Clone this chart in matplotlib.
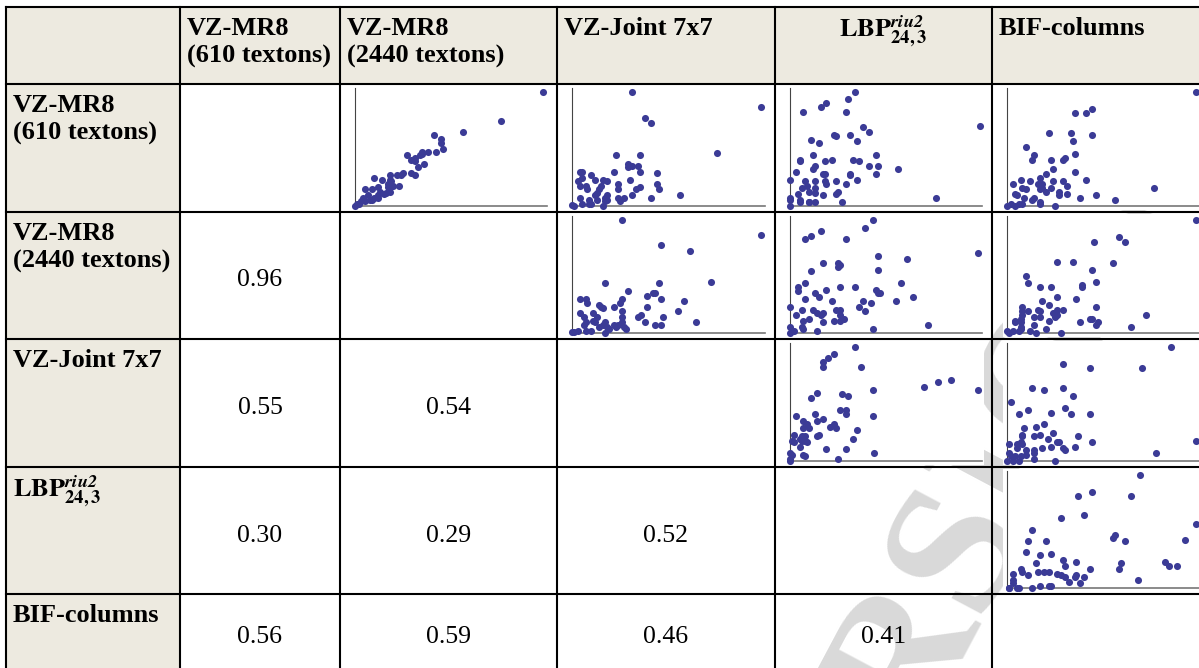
import matplotlib
matplotlib.use('Agg')
import matplotlib.pyplot as plt
from matplotlib.patches import Rectangle

plt.rcParams['mathtext.fontset'] = 'stix'

# table labels
lbp_label = r'$\mathbf{LBP}^{\mathbfit{riu2}}_{\mathbf{24,3}}$'
col_labels = [['VZ-MR8', '(610 textons)'], ['VZ-MR8', '(2440 textons)'],
              ['VZ-Joint 7x7'], [lbp_label], ['BIF-columns']]
row_labels = col_labels

# correlations (lower triangle, one list per row)
corr_mr2440 = [0.96]
corr_joint = [0.55, 0.54]
corr_lbp = [0.30, 0.29, 0.52]
corr_bif = [0.56, 0.59, 0.46, 0.41]

# scatter data, normalised error values
mr610_mr2440_x = [0.00, 0.01, 0.98, 0.76, 0.56, 0.41, 0.45, 0.45, 0.46, 0.42, 0.38, 0.35, 0.35, 0.34, 0.27,
                  0.31, 0.29, 0.31, 0.36, 0.33, 0.29, 0.31, 0.25, 0.24, 0.22, 0.18, 0.10, 0.14, 0.18, 0.19,
                  0.17, 0.19, 0.23, 0.20, 0.17, 0.05, 0.09, 0.12, 0.13, 0.18, 0.16, 0.15, 0.12, 0.07, 0.04,
                  0.10, 0.12, 0.08, 0.03, 0.05, 0.09, 0.02]
mr610_mr2440_y = [0.00, 0.02, 0.97, 0.72, 0.63, 0.60, 0.57, 0.53, 0.48, 0.46, 0.46, 0.46, 0.44, 0.43, 0.43,
                  0.41, 0.39, 0.38, 0.36, 0.33, 0.28, 0.26, 0.28, 0.26, 0.26, 0.26, 0.24, 0.22, 0.22, 0.21,
                  0.19, 0.17, 0.17, 0.17, 0.16, 0.14, 0.14, 0.16, 0.12, 0.12, 0.11, 0.10, 0.09, 0.09, 0.07,
                  0.07, 0.07, 0.05, 0.04, 0.04, 0.05, 0.02]

mr610_joint_x = [0.00, 0.01, 0.31, 0.98, 0.38, 0.41, 0.75, 0.23, 0.35, 0.29, 0.29, 0.31, 0.34, 0.22, 0.35,
                 0.04, 0.05, 0.44, 0.10, 0.12, 0.05, 0.30, 0.16, 0.18, 0.03, 0.24, 0.44, 0.04, 0.07, 0.35,
                 0.33, 0.45, 0.24, 0.08, 0.14, 0.15, 0.13, 0.18, 0.12, 0.17, 0.31, 0.56, 0.04, 0.41, 0.24,
                 0.27, 0.09, 0.13, 0.18, 0.17, 0.25, 0.05, 0.09, 0.16, 0.10]
mr610_joint_y = [0.01, 0.00, 0.97, 0.84, 0.75, 0.70, 0.45, 0.43, 0.43, 0.36, 0.33, 0.34, 0.34, 0.29, 0.29,
                 0.29, 0.29, 0.28, 0.26, 0.22, 0.24, 0.22, 0.22, 0.21, 0.21, 0.19, 0.19, 0.17, 0.17, 0.16,
                 0.14, 0.14, 0.14, 0.14, 0.14, 0.17, 0.11, 0.09, 0.09, 0.07, 0.09, 0.09, 0.07, 0.07, 0.07,
                 0.07, 0.05, 0.05, 0.05, 0.04, 0.04, 0.02, 0.02, 0.00, 0.02]

mr610_lbp_x = [0.00, 0.00, 0.05, 0.10, 0.34, 0.30, 0.19, 0.16, 0.07, 0.29, 0.99, 0.38, 0.41, 0.23, 0.24,
               0.31, 0.11, 0.15, 0.35, 0.12, 0.45, 0.05, 0.05, 0.18, 0.22, 0.33, 0.36, 0.41, 0.46, 0.56,
               0.13, 0.12, 0.03, 0.17, 0.18, 0.31, 0.31, 0.45, 0.00, 0.35, 0.08, 0.13, 0.18, 0.24, 0.19,
               0.29, 0.09, 0.06, 0.13, 0.10, 0.13, 0.25, 0.04, 0.24, 0.17, 0.00, 0.05, 0.10, 0.13, 0.27,
               0.76]
mr610_lbp_y = [0.00, 0.05, 0.05, 0.03, 0.97, 0.91, 0.87, 0.84, 0.80, 0.80, 0.68, 0.67, 0.63, 0.60, 0.59,
               0.60, 0.56, 0.53, 0.55, 0.43, 0.43, 0.38, 0.39, 0.38, 0.39, 0.39, 0.38, 0.34, 0.34, 0.31,
               0.34, 0.31, 0.29, 0.27, 0.27, 0.27, 0.26, 0.27, 0.22, 0.22, 0.21, 0.21, 0.21, 0.21, 0.19,
               0.19, 0.17, 0.15, 0.15, 0.12, 0.11, 0.12, 0.10, 0.10, 0.09, 0.07, 0.03, 0.03, 0.03, 0.03,
               0.07]

mr610_bif_x = [0.98, 0.35, 0.41, 0.44, 0.22, 0.33, 0.44, 0.34, 0.10, 0.14, 0.13, 0.35, 0.29, 0.30, 0.23,
               0.24, 0.35, 0.20, 0.17, 0.07, 0.41, 0.03, 0.12, 0.16, 0.18, 0.24, 0.29, 0.31, 0.08, 0.18,
               0.17, 0.23, 0.27, 0.31, 0.04, 0.05, 0.09, 0.14, 0.17, 0.17, 0.08, 0.13, 0.27, 0.38, 0.46,
               0.56, 0.76, 0.00, 0.02, 0.04, 0.06, 0.25, 0.10, 0.20]
mr610_bif_y = [0.97, 0.79, 0.79, 0.82, 0.62, 0.62, 0.60, 0.55, 0.50, 0.43, 0.39, 0.44, 0.39, 0.41, 0.39,
               0.31, 0.29, 0.27, 0.24, 0.22, 0.22, 0.19, 0.21, 0.19, 0.19, 0.21, 0.21, 0.17, 0.15, 0.15,
               0.14, 0.15, 0.12, 0.10, 0.10, 0.09, 0.07, 0.07, 0.03, 0.02, 0.02, 0.05, 0.09, 0.07, 0.09,
               0.05, 0.15, 0.00, 0.02, 0.00, 0.02, 0.00, 0.14, 0.12]

mr2440_joint_x = [0.00, 0.01, 0.03, 0.26, 0.98, 0.46, 0.61, 0.72, 0.17, 0.45, 0.29, 0.39, 0.42, 0.43, 0.04,
                  0.07, 0.46, 0.26, 0.25, 0.08, 0.58, 0.14, 0.15, 0.16, 0.22, 0.39, 0.26, 0.04, 0.11, 0.55,
                  0.06, 0.13, 0.34, 0.36, 0.47, 0.26, 0.11, 0.12, 0.17, 0.38, 0.43, 0.46, 0.64, 0.06, 0.07,
                  0.14, 0.22, 0.24, 0.26, 0.27, 0.28, 0.19, 0.18, 0.16, 0.07, 0.10, 0.17, 0.23]
mr2440_joint_y = [0.01, 0.01, 0.02, 0.97, 0.84, 0.75, 0.70, 0.44, 0.43, 0.43, 0.36, 0.32, 0.34, 0.34, 0.29,
                  0.29, 0.29, 0.29, 0.26, 0.26, 0.27, 0.24, 0.22, 0.21, 0.22, 0.22, 0.19, 0.17, 0.17, 0.19,
                  0.14, 0.14, 0.14, 0.15, 0.14, 0.14, 0.10, 0.09, 0.09, 0.09, 0.07, 0.07, 0.09, 0.07, 0.09,
                  0.05, 0.07, 0.07, 0.09, 0.05, 0.03, 0.03, 0.05, 0.07, 0.02, 0.02, 0.00, 0.05]

mr2440_lbp_x = [0.43, 0.39, 0.16, 0.11, 0.08, 0.29, 0.98, 0.46, 0.61, 0.17, 0.25, 0.26, 0.25, 0.46, 0.11,
                0.58, 0.08, 0.04, 0.04, 0.19, 0.26, 0.34, 0.45, 0.46, 0.47, 0.13, 0.15, 0.08, 0.22, 0.38,
                0.42, 0.55, 0.64, 0.00, 0.06, 0.12, 0.24, 0.26, 0.36, 0.39, 0.14, 0.16, 0.17, 0.26, 0.03,
                0.10, 0.07, 0.17, 0.23, 0.26, 0.28, 0.43, 0.72, 0.00, 0.06, 0.07, 0.02, 0.14, 0.00]
mr2440_lbp_y = [0.97, 0.90, 0.87, 0.83, 0.80, 0.80, 0.68, 0.66, 0.63, 0.60, 0.60, 0.58, 0.56, 0.54, 0.53,
                0.43, 0.43, 0.39, 0.36, 0.37, 0.39, 0.39, 0.37, 0.34, 0.34, 0.34, 0.31, 0.29, 0.27, 0.27,
                0.26, 0.27, 0.31, 0.22, 0.20, 0.20, 0.20, 0.20, 0.22, 0.19, 0.17, 0.15, 0.17, 0.15, 0.15,
                0.12, 0.10, 0.09, 0.10, 0.10, 0.12, 0.03, 0.07, 0.05, 0.05, 0.03, 0.02, 0.02, 0.00]

mr2440_bif_x = [0.98, 0.58, 0.61, 0.45, 0.26, 0.34, 0.55, 0.44, 0.46, 0.39, 0.39, 0.10, 0.11, 0.17, 0.23,
                0.26, 0.18, 0.36, 0.46, 0.22, 0.29, 0.08, 0.08, 0.08, 0.11, 0.16, 0.17, 0.26, 0.24, 0.26,
                0.25, 0.14, 0.17, 0.22, 0.04, 0.04, 0.07, 0.07, 0.07, 0.14, 0.20, 0.12, 0.15, 0.28, 0.38,
                0.43, 0.44, 0.46, 0.47, 0.64, 0.72, 0.00, 0.01, 0.03, 0.06, 0.07]
mr2440_bif_y = [0.97, 0.82, 0.78, 0.78, 0.61, 0.61, 0.60, 0.54, 0.44, 0.41, 0.39, 0.49, 0.43, 0.39, 0.39,
                0.31, 0.27, 0.29, 0.22, 0.24, 0.20, 0.22, 0.19, 0.15, 0.19, 0.20, 0.19, 0.20, 0.17, 0.15,
                0.14, 0.14, 0.14, 0.10, 0.10, 0.09, 0.12, 0.09, 0.05, 0.07, 0.03, 0.02, 0.00, 0.00, 0.09,
                0.12, 0.12, 0.07, 0.09, 0.05, 0.15, 0.02, 0.00, 0.02, 0.02, 0.03]

joint_lbp_x = [0.34, 0.23, 0.20, 0.17, 0.17, 0.37, 0.70, 0.77, 0.84, 0.98, 0.43, 0.14, 0.11, 0.27, 0.30,
               0.03, 0.13, 0.07, 0.14, 0.17, 0.26, 0.29, 0.29, 0.43, 0.09, 0.07, 0.10, 0.21, 0.23, 0.24,
               0.35, 0.02, 0.06, 0.08, 0.05, 0.14, 0.15, 0.01, 0.06, 0.08, 0.09, 0.33, 0.02, 0.05, 0.19,
               0.29, 0.44, 0.00, 0.07, 0.08, 0.25, 0.00, 0.01, 0.00]
joint_lbp_y = [0.97, 0.91, 0.87, 0.84, 0.80, 0.80, 0.63, 0.67, 0.69, 0.60, 0.60, 0.58, 0.53, 0.57, 0.55,
               0.38, 0.40, 0.34, 0.34, 0.36, 0.43, 0.43, 0.40, 0.38, 0.31, 0.28, 0.28, 0.29, 0.31, 0.28,
               0.26, 0.22, 0.21, 0.21, 0.19, 0.21, 0.22, 0.17, 0.17, 0.17, 0.16, 0.19, 0.16, 0.12, 0.10,
               0.10, 0.07, 0.07, 0.05, 0.04, 0.02, 0.02, 0.05, 0.00]

joint_bif_x = [0.85, 0.29, 0.43, 0.70, 0.13, 0.19, 0.29, 0.34, 0.02, 0.11, 0.06, 0.23, 0.30, 0.33, 0.43,
               0.98, 0.09, 0.15, 0.19, 0.24, 0.17, 0.21, 0.14, 0.08, 0.08, 0.37, 0.44, 0.26, 0.27, 0.01,
               0.05, 0.07, 0.08, 0.10, 0.05, 0.14, 0.18, 0.23, 0.29, 0.30, 0.35, 0.77, 0.01, 0.04, 0.07,
               0.10, 0.14, 0.25, 0.00, 0.03, 0.06, 0.14, 0.02]
joint_bif_y = [0.97, 0.82, 0.79, 0.79, 0.62, 0.60, 0.62, 0.55, 0.50, 0.43, 0.40, 0.41, 0.45, 0.40, 0.40,
               0.17, 0.28, 0.29, 0.31, 0.24, 0.22, 0.19, 0.21, 0.22, 0.21, 0.21, 0.16, 0.16, 0.16, 0.14,
               0.14, 0.16, 0.14, 0.09, 0.11, 0.09, 0.11, 0.12, 0.11, 0.09, 0.12, 0.07, 0.07, 0.04, 0.04,
               0.05, 0.02, 0.00, 0.00, 0.00, 0.00, 0.07, 0.04]

lbp_bif_x = [0.69, 0.44, 0.37, 0.64, 0.28, 0.40, 0.98, 0.13, 0.11, 0.20, 0.10, 0.55, 0.56, 0.61, 0.92,
             0.17, 0.23, 0.29, 0.36, 0.15, 0.30, 0.59, 0.58, 0.82, 0.84, 0.88, 0.07, 0.08, 0.03, 0.11,
             0.16, 0.19, 0.22, 0.26, 0.28, 0.30, 0.32, 0.35, 0.36, 0.40, 0.43, 0.38, 0.13, 0.17, 0.22,
             0.23, 0.68, 0.01, 0.03, 0.03, 0.05, 0.06, 0.01]
lbp_bif_y = [0.97, 0.82, 0.79, 0.79, 0.60, 0.62, 0.55, 0.50, 0.40, 0.40, 0.31, 0.43, 0.45, 0.40, 0.41,
             0.28, 0.29, 0.24, 0.22, 0.21, 0.19, 0.21, 0.16, 0.22, 0.19, 0.19, 0.16, 0.14, 0.12, 0.11,
             0.14, 0.14, 0.14, 0.12, 0.11, 0.09, 0.05, 0.09, 0.11, 0.09, 0.16, 0.04, 0.00, 0.02, 0.02,
             0.02, 0.07, 0.00, 0.04, 0.07, 0.00, 0.00, 0.00]

# (row, col) of each scatter in the table
scatters = [
    (1, 2, mr610_mr2440_x, mr610_mr2440_y),
    (1, 3, mr610_joint_x, mr610_joint_y),
    (1, 4, mr610_lbp_x, mr610_lbp_y),
    (1, 5, mr610_bif_x, mr610_bif_y),
    (2, 3, mr2440_joint_x, mr2440_joint_y),
    (2, 4, mr2440_lbp_x, mr2440_lbp_y),
    (2, 5, mr2440_bif_x, mr2440_bif_y),
    (3, 4, joint_lbp_x, joint_lbp_y),
    (3, 5, joint_bif_x, joint_bif_y),
    (4, 5, lbp_bif_x, lbp_bif_y),
]
corr_rows = [(2, corr_mr2440), (3, corr_joint), (4, corr_lbp), (5, corr_bif)]

W, H = 1199, 668
col_edges = [6, 180, 340, 557, 775, 992, 1210]
row_edges = [7, 84, 212, 339, 467, 594, 680]
beige = '#edeae0'
dot = '#3b3b96'

fig = plt.figure(figsize=(W / 100, H / 100), dpi=100)
bg = fig.add_axes([0, 0, 1, 1])
bg.set_xlim(0, W)
bg.set_ylim(H, 0)
bg.axis('off')

# cell backgrounds
for r in range(6):
    for c in range(6):
        x0, x1 = col_edges[c], col_edges[c + 1]
        y0, y1 = row_edges[r], row_edges[r + 1]
        fc = beige if (r == 0 or c == 0) else 'white'
        bg.add_patch(Rectangle((x0, y0), x1 - x0, y1 - y0, facecolor=fc, edgecolor='none', zorder=0))

# faint watermark behind the table text
wm = bg.text(955, 572, 'VERSION', rotation=62, rotation_mode='anchor', ha='center', va='center',
             fontsize=136, family='Liberation Serif', fontweight='bold', color='#d9d9d9', zorder=1)
wm.set_clip_on(True)

# white backing of the little plots (hides the watermark)
for r, c, xs, ys in scatters:
    x0, x1 = col_edges[c] + 11, col_edges[c + 1] - 8
    y0, y1 = row_edges[r] + 2, row_edges[r + 1] - 2
    bg.add_patch(Rectangle((x0, y0), x1 - x0, y1 - y0, facecolor='white', edgecolor='none', zorder=2))

# grid lines
for x in col_edges:
    bg.plot([x, x], [row_edges[0], row_edges[-1]], color='black', lw=1.5, zorder=4, solid_capstyle='projecting')
for y in row_edges:
    bg.plot([col_edges[0], col_edges[-1]], [y, y], color='black', lw=1.5, zorder=4, solid_capstyle='projecting')

# header and row labels
for i, lines in enumerate(col_labels):
    c = i + 1
    top = row_edges[0]
    if lines[0] == lbp_label:
        bg.text((col_edges[c] + col_edges[c + 1]) / 2, top + 30, lines[0], ha='center', va='baseline',
                fontsize=19, fontweight='bold', zorder=5)
    else:
        for k, s in enumerate(lines):
            bg.text(col_edges[c] + 7, top + 28 + 28 * k, s, ha='left', va='baseline', fontsize=19,
                    fontweight='bold', family='Liberation Serif', zorder=5)

for i, lines in enumerate(row_labels):
    r = i + 1
    top = row_edges[r]
    if lines[0] == lbp_label:
        bg.text(col_edges[0] + 7, top + 30, lines[0], ha='left', va='baseline',
                fontsize=19, fontweight='bold', zorder=5)
    else:
        for k, s in enumerate(lines):
            bg.text(col_edges[0] + 7, top + 28 + 28 * k, s, ha='left', va='baseline', fontsize=19,
                    fontweight='bold', family='Liberation Serif', zorder=5)

# correlation values
for r, vals in corr_rows:
    top, bot = row_edges[r], row_edges[r + 1]
    base = top + 49 if r == 5 else (top + bot) / 2 + 11
    for c, v in enumerate(vals):
        cx = (col_edges[c + 1] + col_edges[c + 2]) / 2
        bg.text(cx, base, '%.2f' % v, ha='center', va='baseline', fontsize=18.5,
                family='Liberation Serif', zorder=5)

# little scatter plots
for r, c, xs, ys in scatters:
    x0, x1 = col_edges[c] + 15, col_edges[c + 1] - 10
    y0, y1 = row_edges[r] + 4, row_edges[r + 1] - 6
    ax = fig.add_axes([x0 / W, 1 - y1 / H, (x1 - x0) / W, (y1 - y0) / H])
    ax.scatter(xs, ys, s=26, color=dot, linewidths=0, clip_on=False, zorder=3)
    ax.set_xlim(0, 1)
    ax.set_ylim(0, 1)
    ax.set_xticks([])
    ax.set_yticks([])
    ax.spines['top'].set_visible(False)
    ax.spines['right'].set_visible(False)
    ax.spines['left'].set_color('#444444')
    ax.spines['left'].set_linewidth(0.8)
    ax.spines['bottom'].set_color('#777777')
    ax.spines['bottom'].set_linewidth(1.2)
    ax.patch.set_alpha(0)

fig.savefig('out.png', dpi=100)
